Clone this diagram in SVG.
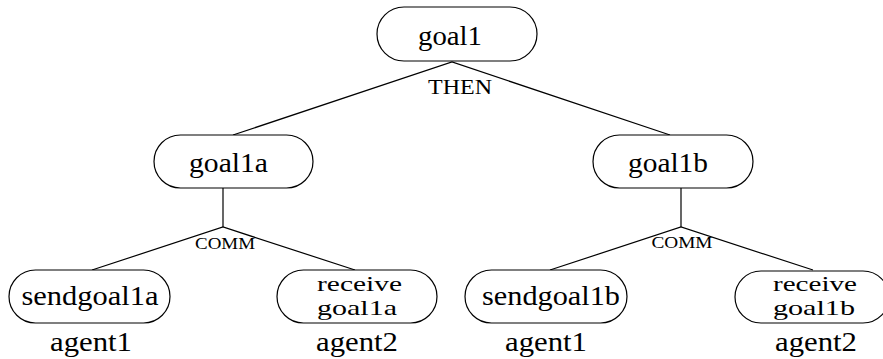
<svg xmlns="http://www.w3.org/2000/svg" width="883" height="359" viewBox="0 0 883 359">
  <style>
    .box { fill: #ffffff; stroke: #000000; stroke-width: 1.2; }
    .edge { stroke: #000000; stroke-width: 1.2; fill: none; }
    .lbl { font-family: "Liberation Serif", "DejaVu Serif", serif; font-size: 27px; fill: #000000; text-anchor: middle; }
    .two { font-size: 21.5px; }
    .op { font-family: "Liberation Serif", "DejaVu Serif", serif; fill: #000000; text-anchor: middle; }
  </style>
  <rect width="883" height="359" fill="#ffffff"/>

  <!-- tree edges and operator labels -->
  <g id="connectors">
    <polyline class="edge" points="233,135 452,62 670,135"/>
    <polyline class="edge" points="92,270 223,227 355,270"/>
    <line class="edge" x1="223" y1="188" x2="223" y2="227"/>
    <polyline class="edge" points="550,270 681,227 813,270"/>
    <line class="edge" x1="681" y1="188" x2="681" y2="227"/>
    <text class="op" x="460" y="94" font-size="20" textLength="64" lengthAdjust="spacingAndGlyphs">THEN</text>
    <text class="op" x="225" y="249" font-size="17" textLength="60" lengthAdjust="spacingAndGlyphs">COMM</text>
    <text class="op" x="682" y="248" font-size="17" textLength="61" lengthAdjust="spacingAndGlyphs">COMM</text>
  </g>

  <g id="goal1">
    <rect class="box" x="377" y="7" width="160" height="54" rx="27" ry="27"/>
    <text class="lbl" x="450" y="45" textLength="64" lengthAdjust="spacingAndGlyphs">goal1</text>
  </g>

  <g id="goal1a">
    <rect class="box" x="154" y="135" width="159" height="53" rx="26.5" ry="26.5"/>
    <text class="lbl" x="228.5" y="172" textLength="79" lengthAdjust="spacingAndGlyphs">goal1a</text>
  </g>

  <g id="goal1b">
    <rect class="box" x="593" y="135" width="160" height="53" rx="26.5" ry="26.5"/>
    <text class="lbl" x="668" y="172" textLength="80" lengthAdjust="spacingAndGlyphs">goal1b</text>
  </g>

  <g id="sendgoal1a">
    <rect class="box" x="9" y="270" width="161" height="53" rx="26.5" ry="26.5"/>
    <text class="lbl" x="90" y="305" textLength="137" lengthAdjust="spacingAndGlyphs">sendgoal1a</text>
    <text class="lbl" x="91" y="351" textLength="82" lengthAdjust="spacingAndGlyphs">agent1</text>
  </g>

  <g id="receivegoal1a">
    <rect class="box" x="277" y="270" width="160" height="53" rx="26.5" ry="26.5"/>
    <text class="lbl two" x="359.5" y="291" textLength="85" lengthAdjust="spacingAndGlyphs">receive</text>
    <text class="lbl two" x="357" y="315" textLength="80" lengthAdjust="spacingAndGlyphs">goal1a</text>
    <text class="lbl" x="357" y="351" textLength="82" lengthAdjust="spacingAndGlyphs">agent2</text>
  </g>

  <g id="sendgoal1b">
    <rect class="box" x="465" y="270" width="162" height="53" rx="26.5" ry="26.5"/>
    <text class="lbl" x="551" y="305" textLength="138" lengthAdjust="spacingAndGlyphs">sendgoal1b</text>
    <text class="lbl" x="546" y="351" textLength="82" lengthAdjust="spacingAndGlyphs">agent1</text>
  </g>

  <g id="receivegoal1b">
    <rect class="box" x="735" y="271" width="154" height="52" rx="26" ry="26"/>
    <text class="lbl two" x="815" y="291" textLength="84" lengthAdjust="spacingAndGlyphs">receive</text>
    <text class="lbl two" x="814" y="315" textLength="82" lengthAdjust="spacingAndGlyphs">goal1b</text>
    <text class="lbl" x="816" y="351" textLength="82" lengthAdjust="spacingAndGlyphs">agent2</text>
  </g>
</svg>
